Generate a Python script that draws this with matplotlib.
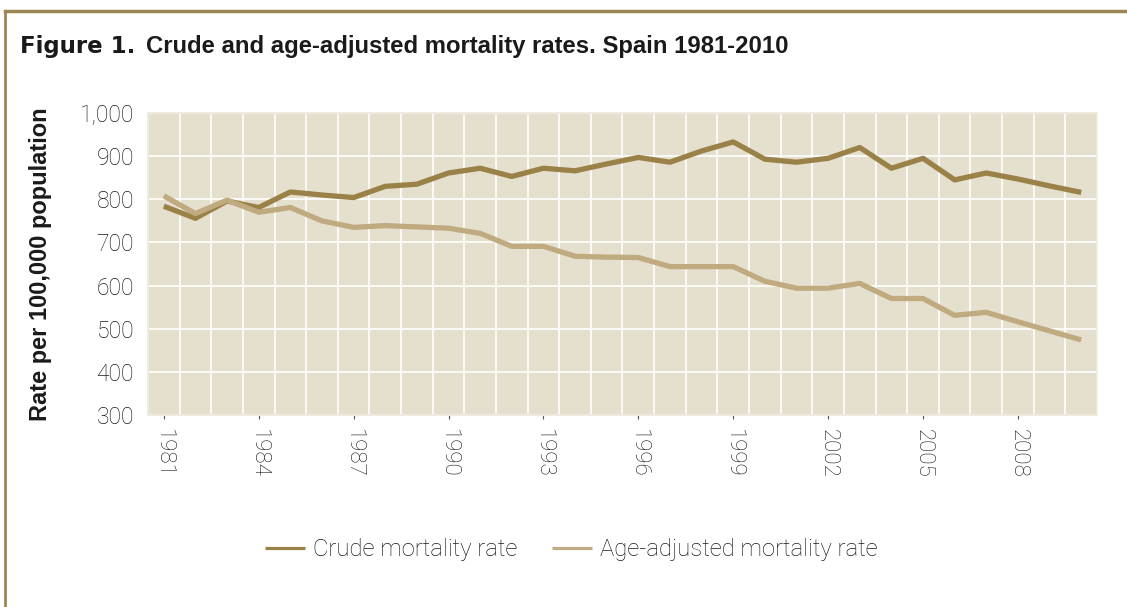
import matplotlib

matplotlib.use("Agg")
import matplotlib.pyplot as plt
from matplotlib.lines import Line2D
import numpy as np

years = list(range(1981, 2011))
crude = [784, 756, 796, 781, 817, 810, 804, 830, 835, 861,
         872, 853, 872, 866, 882, 897, 886, 912, 933, 893,
         886, 895, 920, 872, 895, 845, 861, 847, 831, 816]
adjusted = [808, 767, 798, 770, 781, 750, 735, 739, 736, 733,
            721, 691, 691, 668, 666, 665, 644, 644, 644, 610,
            594, 594, 605, 570, 570, 531, 538, 516, 495, 474]
y_ticks = [300, 400, 500, 600, 700, 800, 900, 1000]

GOLD = "#9a8147"
SAND = "#c0aa80"
PANEL = "#e5dfcd"
FRAME = "#9c8550"
TEXT = "#1a1a1a"
LIGHT = "Roboto"

fig = plt.figure(figsize=(11.27, 6.07), dpi=100)
ax = fig.add_axes([0.1313, 0.3163, 0.8421, 0.4975])
ax.set_facecolor(PANEL)

x = np.arange(len(years))
ax.plot(x, crude, color=GOLD, linewidth=3.8, solid_capstyle="butt",
        label="Crude mortality rate", zorder=3)
ax.plot(x, adjusted, color=SAND, linewidth=3.8, solid_capstyle="butt",
        label="Age-adjusted mortality rate", zorder=4)

ax.set_xlim(-0.5, len(years) - 0.5)
ax.set_ylim(300, 1000)

# category boundaries carry the vertical grid, labels every third year
ax.set_xticks(np.arange(-0.5, len(years), 1.0), minor=True)
ax.set_xticks(x[::3])
ax.set_xticklabels([str(y) for y in years[::3]], rotation=-90,
                   fontsize=16, family=LIGHT, fontweight="light", color=TEXT)
ax.set_yticks(y_ticks)
ax.set_yticklabels([f"{v:,}" for v in y_ticks], fontsize=16.5, family=LIGHT,
                   fontweight="light", color=TEXT)

ax.grid(True, which="minor", axis="x", color="white", linewidth=1.2)
ax.grid(True, which="major", axis="y", color="white", linewidth=1.2)
ax.tick_params(axis="x", which="major", length=3, width=0.8, color="#555555", pad=7)
ax.tick_params(axis="x", which="minor", length=0)
ax.tick_params(axis="y", length=0, pad=10)
for spine in ax.spines.values():
    spine.set_color("#efebe0")
    spine.set_linewidth(1.5)

ax.set_ylabel("Rate per 100,000 population", fontsize=17, fontweight="bold",
              family="Liberation Sans", color=TEXT)
ax.yaxis.set_label_coords(-0.1015, 0.5)

fig.text(0.0177, 0.9127, "Figure 1.", fontsize=16.5, fontweight="bold",
         family="DejaVu Sans", color=TEXT, va="baseline")
fig.text(0.1295, 0.9127, "Crude and age-adjusted mortality rates. Spain 1981-2010",
         fontsize=17.2, fontweight="bold", family="Liberation Sans", color=TEXT,
         va="baseline")

# gold frame on top and left side
fig.add_artist(Line2D([0.004, 1.0], [0.982, 0.982], transform=fig.transFigure,
                      color=FRAME, linewidth=2.5))
fig.add_artist(Line2D([0.0045, 0.0045], [0.0, 0.982], transform=fig.transFigure,
                      color=FRAME, linewidth=2.0))

leg = fig.legend(loc="center", bbox_to_anchor=(0.507, 0.094), ncol=2,
                 frameon=False, handlelength=1.65, columnspacing=1.45,
                 handletextpad=0.35,
                 prop={"family": LIGHT, "weight": "light", "size": 17.2})
for t in leg.get_texts():
    t.set_color(TEXT)
for h in leg.get_lines():
    h.set_linewidth(2.3)

fig.savefig("out.png", dpi=100)
plt.close(fig)
